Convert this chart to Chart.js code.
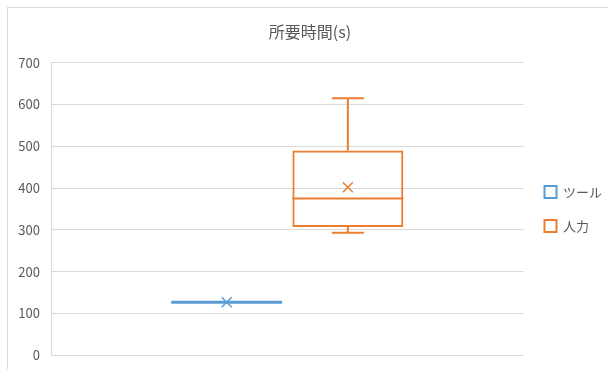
<!DOCTYPE html>
<html>
<head>
<meta charset="utf-8">
<script src="https://cdn.jsdelivr.net/npm/chart.js@4/dist/chart.umd.min.js"></script>
<style>
  html, body { margin: 0; padding: 0; background: #fff; overflow: hidden; width: 608px; height: 369px; }
  #wrap { position: absolute; left: 7px; top: 7px; width: 620px; height: 362px;
          border-left: 1px solid #d9d9d9; border-top: 1px solid #d9d9d9; }
</style>
</head>
<body>
<div id="wrap"><canvas id="myChart"></canvas></div>
<script>
"use strict";
// box plot data
const categories = ["所要時間"];
const seriesNames = ["ツール", "人力"];
const seriesColors = ["#5B9BD5", "#ED7D31"];
const minValues = [127, 293];
const q1Values = [127, 307];
const medianValues = [127, 375];
const q3Values = [127, 490];
const maxValues = [127, 615];
const meanValues = [127, 402];
const yTickMax = 700;
const yTickStep = 100;

const FONT = "'Noto Sans CJK JP', 'Noto Sans', sans-serif";

// whiskers, median and mean mark on top of the bar boxes
const boxPlotPlugin = {
  id: "boxPlot",
  afterDatasetsDraw(chart) {
    const ctx = chart.ctx;
    const yScale = chart.scales.y;
    chart.data.datasets.forEach((ds, i) => {
      const meta = chart.getDatasetMeta(i);
      meta.data.forEach((bar) => {
        const x = bar.x;
        const half = bar.width / 2;
        const capHalf = 16;
        const yMin = yScale.getPixelForValue(minValues[i]);
        const yQ1 = yScale.getPixelForValue(q1Values[i]);
        const yMed = yScale.getPixelForValue(medianValues[i]);
        const yQ3 = yScale.getPixelForValue(q3Values[i]);
        const yMax = yScale.getPixelForValue(maxValues[i]);
        const yMean = yScale.getPixelForValue(meanValues[i]);
        ctx.save();
        ctx.strokeStyle = seriesColors[i];
        ctx.lineWidth = 2;
        ctx.beginPath();
        if (yMax < yQ3) {
          ctx.moveTo(x, yQ3);
          ctx.lineTo(x, yMax);
          ctx.moveTo(x - capHalf, yMax);
          ctx.lineTo(x + capHalf, yMax);
        }
        if (yMin > yQ1) {
          ctx.moveTo(x, yQ1);
          ctx.lineTo(x, yMin);
          ctx.moveTo(x - capHalf, yMin);
          ctx.lineTo(x + capHalf, yMin);
        }
        ctx.stroke();
        // median
        ctx.lineWidth = Math.abs(yQ1 - yQ3) < 1 ? 3 : 2;
        ctx.beginPath();
        ctx.moveTo(x - half, yMed);
        ctx.lineTo(x + half, yMed);
        ctx.stroke();
        // mean X
        const s = 5;
        ctx.lineWidth = 1.5;
        ctx.beginPath();
        ctx.moveTo(x - s, yMean - s);
        ctx.lineTo(x + s, yMean + s);
        ctx.moveTo(x + s, yMean - s);
        ctx.lineTo(x - s, yMean + s);
        ctx.stroke();
        ctx.restore();
      });
    });
  },
};

const ctx = document.getElementById("myChart").getContext("2d");
const myChart = new Chart(ctx, {
  type: "bar",
  data: {
    labels: categories,
    datasets: seriesNames.map((name, i) => ({
      label: name,
      data: [[q1Values[i], q3Values[i]]],
      backgroundColor: "rgba(255,255,255,0)",
      borderColor: seriesColors[i],
      borderWidth: 2,
      borderSkipped: false,
      categoryPercentage: 0.513,
      barPercentage: 0.915,
    })),
  },
  options: {
    responsive: true,
    maintainAspectRatio: false,
    animation: false,
    layout: { padding: { left: 0, right: 16, top: 0, bottom: 14.7 } },
    plugins: {
      title: {
        display: true,
        text: "所要時間(s)",
        color: "#595959",
        font: { family: FONT, size: 16, weight: "normal" },
        padding: { top: 14.4, bottom: 21.1 },
      },
      legend: {
        position: "right",
        fullSize: false,
        labels: {
          color: "#595959",
          font: { family: FONT, size: 13 },
          boxWidth: 12,
          boxHeight: 12,
          padding: 21,
        },
      },
      tooltip: { enabled: false },
    },
    scales: {
      x: { display: false, offset: true },
      y: {
        min: 0,
        max: yTickMax,
        ticks: {
          stepSize: yTickStep,
          color: "#595959",
          font: { family: FONT, size: 13 },
          padding: 11,
        },
        grid: { color: "#d9d9d9", drawTicks: false },
        border: { color: "#d9d9d9" },
        afterFit(scale) {
          scale.width = 43;
          scale.paddingTop = 0;
          scale.paddingBottom = 0;
        },
      },
    },
  },
  plugins: [boxPlotPlugin],
});
</script>
</body>
</html>
